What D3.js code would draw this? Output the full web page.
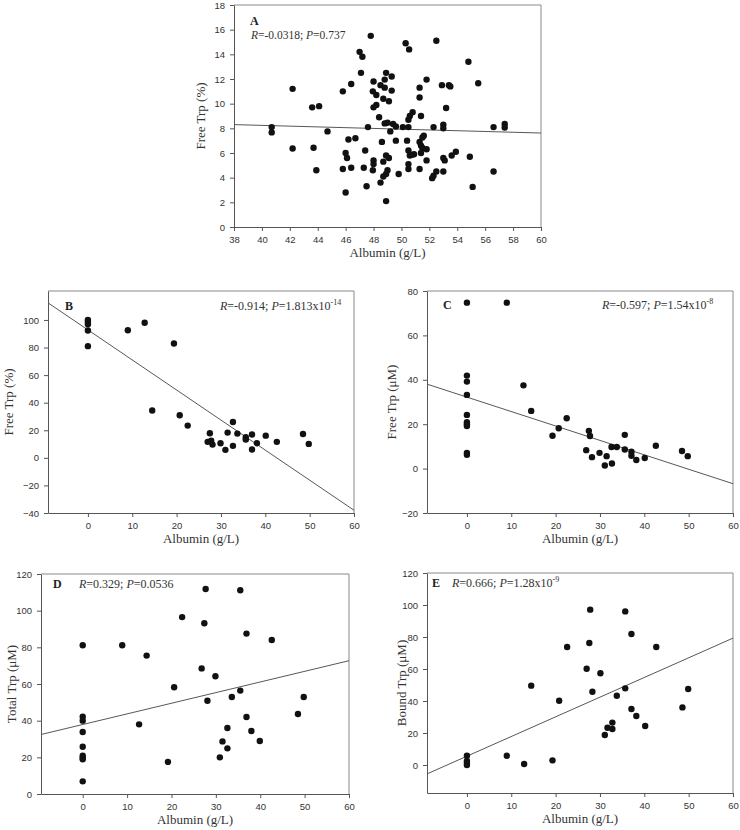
<!DOCTYPE html>
<html><head><meta charset="utf-8">
<script src="https://cdn.jsdelivr.net/npm/d3@7/dist/d3.min.js"></script>
<style>body{margin:0;background:#fff;}</style>
</head><body>
<svg id="chart" width="740" height="830"></svg>
<script>
// ---------- DATA ----------
// Panel A: Free Trp (%) vs Albumin (g/L)
const albA = [47.8,47.0,47.2,47.1,46.4,45.8,42.2,48.9,49.3,48.8,48.0,49.3,48.5,48.8,47.95,48.2,48.7,49.1,48.2,48.0,43.6,44.1,48.4,48.8,49.0,49.4,49.6,40.7,47.6,
  50.3,50.55,52.5,54.8,51.8,52.9,53.4,53.5,55.5,51.3,51.3,53.2,50.8,50.6,50.5,51.4,
  50.1,50.5,52.3,53.0,53.0,56.6,57.4,57.4,
  40.7,44.7,42.2,43.7,43.9,46.2,46.7,46.0,46.1,46.4,45.8,46.0,47.4,47.3,47.5,48.0,48.0,47.95,48.6,48.7,48.9,49.1,49.0,48.9,48.7,48.5,48.9,49.6,49.2,49.8,
  50.4,50.5,51.3,51.5,51.6,51.4,51.5,51.8,50.6,50.9,50.75,51.4,51.8,53.0,53.1,53.6,53.9,54.9,50.5,50.5,51.3,52.2,52.3,52.5,53.0,55.1,56.6];
const freePctA = [15.5,14.2,13.8,12.5,11.6,11.0,11.2,12.5,12.2,11.95,11.8,11.06,11.5,11.3,11.0,10.7,10.4,10.2,9.9,9.7,9.7,9.8,8.9,8.4,8.45,8.35,8.15,8.1,8.1,
  14.9,14.4,15.1,13.4,11.95,11.5,11.5,11.4,11.65,11.3,10.5,9.65,9.3,9.0,8.7,9.0,
  8.1,8.1,8.1,8.3,8.0,8.1,8.35,8.07,
  7.67,7.75,6.37,6.42,4.6,7.1,7.2,6.0,5.6,4.8,4.7,2.8,6.2,4.8,3.3,5.4,5.1,4.6,6.9,5.3,5.8,5.6,4.6,4.3,4.1,3.6,2.1,7.0,7.75,4.3,
  7.0,6.2,6.9,7.26,7.4,6.6,6.4,6.3,5.8,5.9,5.85,6.0,5.4,5.6,5.4,5.8,6.1,5.7,5.1,4.7,4.7,3.96,4.15,4.5,4.5,3.25,4.5];
const regA = [9.48, -0.031];   // intercept, slope

// Panel B: Free Trp (%) vs Albumin (g/L)
const albB = [0,0,0,0,0,9.0,12.8,19.4,14.5,20.7,22.5,27.0,27.5,27.8,28.1,29.9,31.0,31.5,32.7,32.7,33.7,35.6,35.6,37.0,37.0,38.1,40.1,42.6,48.5,49.8];
const freePctB = [100,98.6,96.9,92.3,81,92.5,98,82.9,34.3,30.9,23.4,11.6,17.8,12.5,9.6,10.6,5.8,18.3,26,8.7,17.6,14.9,13.3,16.9,6,10.6,16.1,11.6,17.3,10.1];
const regB = [92.8, -2.18];

// Panel C: Free Trp (µM) vs Albumin (g/L)
const albC = [0,0,0,0,0,0,0,0,0,0,9.0,12.75,14.5,19.3,20.7,22.5,26.9,27.5,27.75,28.2,29.9,31.1,31.5,32.6,32.7,33.8,35.6,35.6,37.1,37.1,38.2,40.1,42.6,48.5,49.8];
const freeUmC = [74.75,41.9,39.2,33.2,24.2,20.9,20,19.2,7.1,6.2,74.75,37.5,26,14.8,18.2,22.7,8.3,17,14.7,5.15,7.1,1.4,5.6,9.7,2.3,9.7,15.2,8.6,7.6,5.8,3.9,4.8,10.3,7.9,5.6];
const regC = [32.2, -0.65];

// Panel D: Total Trp (µM) vs Albumin (g/L)
const albD = [0,0,0,0,0,0,0,0,0,8.9,14.4,12.7,19.2,20.6,22.4,26.8,27.4,27.7,28.1,29.9,30.9,31.5,32.6,32.6,33.6,35.5,35.5,36.9,36.9,38.0,39.9,42.6,48.5,49.8];
const totalD = [81.1,42.2,40,33.8,25.8,20.9,19.8,18.9,6.9,81.1,75.5,38,17.5,58.2,96.5,68.5,93.1,111.8,50.9,64.2,20,28.7,24.9,36,52.9,111.1,56.4,87.5,42,34.4,28.9,84,43.6,52.9];
const regD = [37.9, 0.58];

// Panel E: Bound Trp (µM) vs Albumin (g/L)
const albE = [0,0,0,0,9.0,12.9,14.5,19.3,20.8,22.6,27.0,27.6,27.8,28.3,30.1,31.1,31.7,32.8,32.8,33.8,35.7,35.7,37.1,37.1,38.2,40.2,42.7,48.6,49.9];
const boundE = [5.8,2.5,1.25,0,5.8,0.6,49.6,2.9,40.2,73.75,60.2,76.25,97.1,45.8,57.3,18.75,23.3,26.5,22.5,43.3,47.9,96,81.9,35,30.6,24.4,73.75,36,47.5];
const regE = [5.5, 1.23];

// Tick values
const ticksAx = [38,40,42,44,46,48,50,52,54,56,58,60];
const ticksAy = [0,2,4,6,8,10,12,14,16,18];
const ticksAlb = [0,10,20,30,40,50,60];
const ticksBy = [-40,-20,0,20,40,60,80,100];
const ticksCy = [-20,0,20,40,60,80];
const ticksDy = [0,20,40,60,80,100,120];
const ticksEy = [0,20,40,60,80,100,120];

// ---------- DRAW ----------
const svg = d3.select('#chart');
const tickFont = '"Liberation Sans", Arial, sans-serif';
const serif = '"Liberation Serif", "Times New Roman", serif';

function panel(o) {
  const g = svg.append('g');
  const x = d3.scaleLinear().domain(o.xDomain).range([o.left, o.right]);
  const y = d3.scaleLinear().domain(o.yDomain).range([o.bottom, o.top]);

  g.append('line').attr('x1', o.left).attr('x2', o.right).attr('y1', o.top).attr('y2', o.top)
    .attr('stroke', '#8a8a8a').attr('stroke-width', 1);
  g.append('line').attr('x1', o.right).attr('x2', o.right).attr('y1', o.top).attr('y2', o.bottom)
    .attr('stroke', '#8a8a8a').attr('stroke-width', 1);

  const [a, b] = o.reg;
  const [x0, x1] = o.xDomain;
  g.append('line')
    .attr('x1', x(x0)).attr('y1', y(a + b * x0))
    .attr('x2', x(x1)).attr('y2', y(a + b * x1))
    .attr('stroke', '#444').attr('stroke-width', 0.9);

  g.selectAll('circle.pt').data(o.xs.map((v, i) => [v, o.ys[i]])).enter()
    .append('circle').attr('class', 'pt')
    .attr('cx', d => x(d[0])).attr('cy', d => y(d[1])).attr('r', 3.2)
    .attr('fill', '#111');

  const ax = g.append('g').attr('transform', `translate(0,${o.bottom})`)
    .call(d3.axisBottom(x).tickValues(o.xTicks).tickSize(4).tickSizeOuter(0).tickPadding(5).tickFormat(d3.format('d')));
  const ay = g.append('g').attr('transform', `translate(${o.left},0)`)
    .call(d3.axisLeft(y).tickValues(o.yTicks).tickSize(4).tickSizeOuter(0).tickPadding(5).tickFormat(d3.format('d')));
  [ax, ay].forEach(s => {
    s.select('.domain').attr('stroke', '#555');
    s.selectAll('.tick line').attr('stroke', '#555');
    s.selectAll('.tick text').attr('fill', '#333').style('font-family', tickFont).style('font-size', '9.5px');
  });

  g.append('text').attr('x', (o.left + o.right) / 2).attr('y', o.bottom + 30)
    .attr('text-anchor', 'middle').attr('fill', '#333')
    .style('font-family', serif).style('font-size', '13px').text('Albumin (g/L)');
  g.append('text').attr('transform', `translate(${o.yTitleX},${(o.top + o.bottom) / 2}) rotate(-90)`)
    .attr('text-anchor', 'middle').attr('fill', '#333')
    .style('font-family', serif).style('font-size', '13px').text(o.yTitle);

  g.append('text').attr('x', o.letterX).attr('y', o.letterY)
    .attr('fill', '#222').style('font-family', serif).style('font-weight', 'bold').style('font-size', '12px')
    .text(o.letter);

  const t = g.append('text').attr('x', o.statX).attr('y', o.statY).attr('fill', '#333')
    .style('font-family', serif).style('font-size', o.statSize || '12px');
  t.append('tspan').style('font-style', 'italic').text('R');
  t.append('tspan').text('=' + o.r + '; ');
  t.append('tspan').style('font-style', 'italic').text('P');
  t.append('tspan').text('=' + o.p);
  if (o.pExp) {
    t.append('tspan').attr('dy', -5).style('font-size', '8px').text(o.pExp);
  }
}

panel({xs: albA, ys: freePctA, reg: regA, xDomain: [38, 60], yDomain: [0, 18],
  xTicks: ticksAx, yTicks: ticksAy, left: 234, right: 541, top: 5, bottom: 227,
  yTitle: 'Free Trp (%)', yTitleX: 205, letter: 'A', letterX: 250, letterY: 25,
  r: '-0.0318', p: '0.737', statX: 251, statY: 39, statSize: '11.5px'});

panel({xs: albB, ys: freePctB, reg: regB, xDomain: [-9, 60], yDomain: [-40, 121],
  xTicks: ticksAlb, yTicks: ticksBy, left: 48, right: 354, top: 291, bottom: 513,
  yTitle: 'Free Trp (%)', yTitleX: 13, letter: 'B', letterX: 65, letterY: 310,
  r: '-0.914', p: '1.813x10', pExp: '-14', statX: 220, statY: 310});

panel({xs: albC, ys: freeUmC, reg: regC, xDomain: [-9, 60], yDomain: [-20, 80],
  xTicks: ticksAlb, yTicks: ticksCy, left: 427, right: 733, top: 291, bottom: 513,
  yTitle: 'Free Trp (\u03bcM)', yTitleX: 396, letter: 'C', letterX: 443, letterY: 309,
  r: '-0.597', p: '1.54x10', pExp: '-8', statX: 602, statY: 309});

panel({xs: albD, ys: totalD, reg: regD, xDomain: [-9.4, 60], yDomain: [0, 120],
  xTicks: ticksAlb, yTicks: ticksDy, left: 41, right: 349, top: 574, bottom: 794,
  yTitle: 'Total Trp (\u03bcM)', yTitleX: 16, letter: 'D', letterX: 53, letterY: 588,
  r: '0.329', p: '0.0536', statX: 79, statY: 588});

panel({xs: albE, ys: boundE, reg: regE, xDomain: [-9, 60], yDomain: [-17.5, 120],
  xTicks: ticksAlb, yTicks: ticksEy, left: 427, right: 733, top: 573, bottom: 793,
  yTitle: 'Bound Trp (\u03bcM)', yTitleX: 406, letter: 'E', letterX: 432, letterY: 587,
  r: '0.666', p: '1.28x10', pExp: '-9', statX: 452, statY: 587});
</script>
</body></html>
